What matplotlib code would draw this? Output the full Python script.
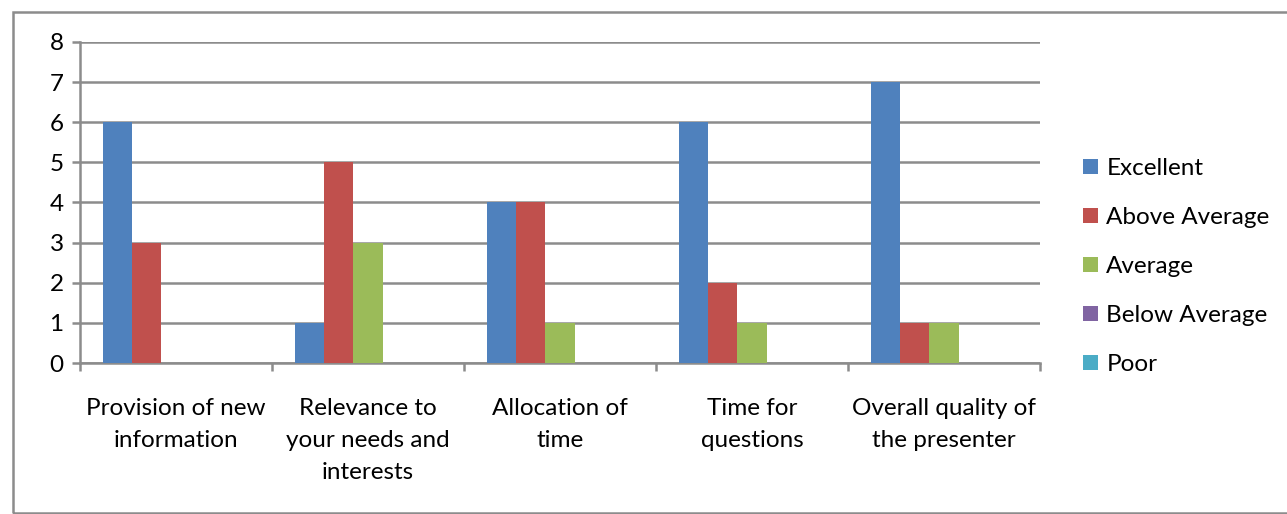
import numpy as np
import matplotlib
matplotlib.use("Agg")
import matplotlib.pyplot as plt
from matplotlib.patches import Rectangle

categories = ["Provision of new\ninformation", "Relevance to\nyour needs and\ninterests",
              "Allocation of\ntime", "Time for\nquestions", "Overall quality of\nthe presenter"]
series_names = ["Excellent", "Above Average", "Average", "Below Average", "Poor"]
excellent = [6, 1, 4, 6, 7]
above_average = [3, 5, 4, 2, 1]
average = [0, 3, 1, 1, 1]
below_average = [0, 0, 0, 0, 0]
poor = [0, 0, 0, 0, 0]
y_ticks = [0, 1, 2, 3, 4, 5, 6, 7, 8]

colors = ["#4F81BD", "#C0504D", "#9BBB59", "#8064A2", "#4BACC6"]
plt.rcParams['font.family'] = ['Lato', 'DejaVu Sans']

W, H = 1287, 514
fig = plt.figure(figsize=(W / 100, H / 100), dpi=100)
fig.patches.append(Rectangle((13 / W, 1.5 / H), 1.2, (H - 13.5) / H, transform=fig.transFigure,
                             fill=False, edgecolor="#8c8c8c", linewidth=1.8))
ax = fig.add_axes([80 / W, (H - 363) / H, 960 / W, 321 / H])

data = [excellent, above_average, average, below_average, poor]
x = np.arange(len(categories))
bw = 0.1527
for i, (name, vals) in enumerate(zip(series_names, data)):
    ax.bar(x + (i - 2) * bw, vals, width=bw, color=colors[i], label=name,
           linewidth=0, zorder=3)

ax.set_xlim(-0.5, len(categories) - 0.5)
ax.set_ylim(0, 8)
ax.set_yticks(y_ticks)
ax.yaxis.grid(True, color="#8c8c8c", linewidth=1.8, zorder=0)
ax.set_axisbelow(True)
for s in ["top", "right"]:
    ax.spines[s].set_visible(False)
for s in ["left", "bottom"]:
    ax.spines[s].set_color("#8c8c8c")
    ax.spines[s].set_linewidth(1.8)

ax.tick_params(axis="y", length=5.8, width=1.8, color="#8c8c8c", labelsize=17.5, pad=6)
ax.set_xticks(x)
ax.set_xticklabels(categories, fontsize=17.5, linespacing=1.65)
ax.tick_params(axis="x", which="major", length=0, pad=25)
ax.set_xticks(np.arange(-0.5, len(categories)), minor=True)
ax.tick_params(axis="x", which="minor", length=6, width=1.8, color="#8c8c8c")

leg = ax.legend(loc="center left", bbox_to_anchor=(1.045, 0.3), frameon=False,
                fontsize=17.5, handlelength=0.6, handleheight=0.6, handletextpad=0.35,
                labelspacing=1.15, borderaxespad=0, borderpad=0)

fig.savefig("out.png", dpi=100)
